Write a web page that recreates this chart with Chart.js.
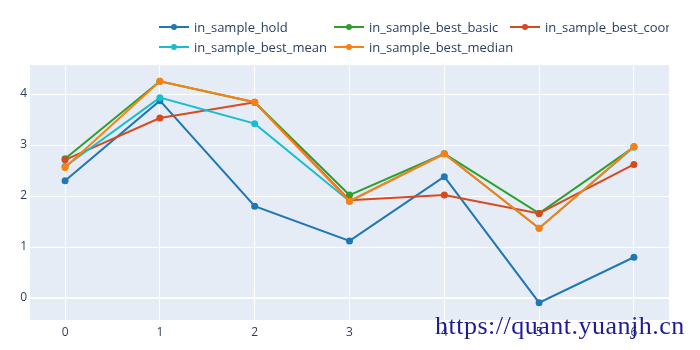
<!DOCTYPE html>
<html>
<head>
<meta charset="utf-8">
<script src="https://cdn.jsdelivr.net/npm/chart.js@4/dist/chart.umd.min.js"></script>
<style>
  html, body { margin: 0; padding: 0; background: #fff; }
  body { width: 700px; height: 350px; overflow: hidden; position: relative; }
  #wrap { position: absolute; left: 0; top: 0; width: 700px; height: 350px; }
  #legend { position: absolute; left: 0; top: 0; width: 669px; height: 60px; overflow: hidden; }
  .leg { position: absolute; font-family: "Open Sans", sans-serif; font-size: 13px; color: #2a3f5f; white-space: nowrap; line-height: 16px; }
  .leg .ln { position: absolute; left: 0; top: 7px; width: 30px; height: 2px; }
  .leg .dot { position: absolute; left: 12px; top: 5px; width: 6px; height: 6px; border-radius: 50%; }
  .leg .tx { position: absolute; left: 35px; top: 0; }
  #wm { position: absolute; left: 435px; top: 312.5px; font-family: "Liberation Serif", serif; font-size: 26px; line-height: 26px; letter-spacing: 0.5px; color: #1b1b9c; white-space: nowrap; }
</style>
</head>
<body>
<div id="wrap"><canvas id="c" width="700" height="350"></canvas></div>
<div id="legend"></div>
<div id="wm">https://quant.yuanjh.cn</div>
<script>
const xValues = [0, 1, 2, 3, 4, 5, 6];
const xTicks = [0, 1, 2, 3, 4, 5, 6];
const yTicks = [0, 1, 2, 3, 4];
const seriesNames = ["in_sample_hold", "in_sample_best_basic", "in_sample_best_coord", "in_sample_best_mean", "in_sample_best_median"];
const seriesColors = ["#1f77b4", "#2ca02c", "#d8491f", "#17becf", "#ff7f0e"];
const holdValues   = [2.30, 3.87, 1.80, 1.12, 2.38, -0.09, 0.80];
const basicValues  = [2.73, 4.25, 3.84, 2.02, 2.83, 1.66, 2.96];
const coordValues  = [2.71, 3.53, 3.84, 1.92, 2.02, 1.66, 2.62];
const meanValues   = [2.58, 3.93, 3.42, 1.90, 2.83, 1.37, 2.96];
const medianValues = [2.56, 4.25, 3.84, 1.90, 2.83, 1.37, 2.97];
const seriesValues = [holdValues, basicValues, coordValues, meanValues, medianValues];

// legend (HTML, real text)
const legendPos = [[159, 19], [334, 19], [510, 19], [159, 39], [334, 39]];
const legendEl = document.getElementById('legend');
seriesNames.forEach((name, i) => {
  const d = document.createElement('div');
  d.className = 'leg';
  d.style.left = legendPos[i][0] + 'px';
  d.style.top = legendPos[i][1] + 'px';
  d.innerHTML = '<div class="ln" style="background:' + seriesColors[i] + '"></div>' +
                '<div class="dot" style="background:' + seriesColors[i] + '"></div>' +
                '<div class="tx"></div>';
  d.querySelector('.tx').textContent = name;
  legendEl.appendChild(d);
});

const bgPlugin = {
  id: 'plotBg',
  beforeDraw(chart) {
    const a = chart.chartArea, ctx = chart.ctx;
    ctx.save();
    ctx.fillStyle = '#E5ECF6';
    ctx.fillRect(a.left, a.top, a.right - a.left, a.bottom - a.top);
    ctx.restore();
  }
};

const datasets = seriesNames.map((name, i) => ({
  label: name,
  data: xValues.map((x, j) => ({ x: x, y: seriesValues[i][j] })),
  borderColor: seriesColors[i],
  backgroundColor: seriesColors[i],
  borderWidth: 2,
  pointRadius: 3.5,
  pointHoverRadius: 3.5,
  pointBorderWidth: 0,
  tension: 0,
  order: seriesNames.length - i
}));

new Chart(document.getElementById('c'), {
  type: 'line',
  data: { datasets },
  plugins: [bgPlugin],
  options: {
    responsive: false,
    animation: false,
    events: [],
    layout: { padding: { top: 65, right: 31, left: 0, bottom: 0 } },
    plugins: { legend: { display: false }, tooltip: { enabled: false } },
    scales: {
      x: {
        type: 'linear',
        min: -0.37, max: 6.37,
        afterBuildTicks(s) { s.ticks = xTicks.map(v => ({ value: v })); },
        afterFit(s) { s.height = 30; },
        border: { display: false },
        grid: { color: '#ffffff', lineWidth: 1, drawTicks: false },
        ticks: { color: '#2a3f5f', font: { family: 'Open Sans', size: 12 }, padding: 5, maxRotation: 0 }
      },
      y: {
        type: 'linear',
        min: -0.43, max: 4.57,
        afterBuildTicks(s) { s.ticks = yTicks.map(v => ({ value: v })); },
        afterFit(s) { s.width = 30; },
        border: { display: false },
        grid: { color: '#ffffff', lineWidth: (c) => (c.tick && c.tick.value === 0 ? 2 : 1), drawTicks: false },
        ticks: { color: '#2a3f5f', font: { family: 'Open Sans', size: 12 }, padding: 3 }
      }
    }
  }
});
</script>
</body>
</html>
